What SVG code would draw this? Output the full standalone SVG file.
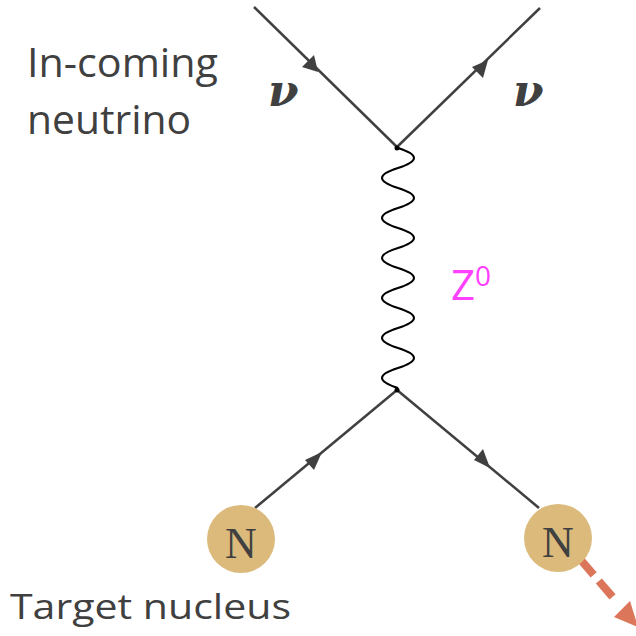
<svg xmlns="http://www.w3.org/2000/svg" width="636" height="636" viewBox="0 0 636 636">
<defs>
<style>
.lbl{font-family:"Open Sans","Liberation Sans",sans-serif;fill:#404040}
.nu{font-family:"DejaVu Serif","Liberation Serif",serif;font-weight:bold;font-style:italic;font-size:44px;fill:#404040}
.fer{stroke:#404040;stroke-width:2.5;fill:none}
.head{fill:#404040}
.nuc{fill:#DBBA7B}
.nl{font-family:"Liberation Serif","DejaVu Serif",serif;font-size:44px;fill:#404040;text-anchor:middle}
.dot{fill:#000}
</style>
</defs>
<rect width="636" height="636" fill="#fff"/>
<g id="labels">
<text class="lbl" x="27" y="77" font-size="40" textLength="191" lengthAdjust="spacingAndGlyphs">In-coming</text>
<text class="lbl" x="27" y="134" font-size="40" textLength="164" lengthAdjust="spacingAndGlyphs">neutrino</text>
<text class="lbl" x="10" y="619" font-size="34" textLength="281" lengthAdjust="spacingAndGlyphs">Target nucleus</text>
<text class="nu" x="268" y="106">ν</text>
<text class="nu" x="513" y="106">ν</text>
<text x="451" y="300" font-family="Open Sans, Liberation Sans, sans-serif" font-size="42" fill="#FF40FF">Z<tspan font-size="28" dy="-14">0</tspan></text>
</g>
<g id="connectors">
<line class="fer" x1="254" y1="7" x2="397" y2="147"/>
<path class="head" d="M318,72 L302,67 L314,55 z"/>
<line class="fer" x1="397" y1="147" x2="540" y2="8"/>
<path class="head" d="M488,60 L472,67 L483,78 z"/>
<path d="M398 148 Q430 158 398 168 T398 188 T398 208 T398 228 T398 248 T398 268 T398 288 T398 308 T398 328 T398 348 T398 368 T398 388" stroke="#000" stroke-width="2" fill="none"/>
<line class="fer" x1="255" y1="508" x2="397" y2="390"/>
<path class="head" d="M322,452 L305,460 L314,470 z"/>
<line class="fer" x1="397" y1="390" x2="539" y2="508"/>
<path class="head" d="M490,468 L474,460 L483,449 z"/>
<circle class="dot" cx="397" cy="148" r="2.5"/>
<circle class="dot" cx="397" cy="390" r="2.5"/>
<line x1="580" y1="559" x2="616" y2="601" stroke="#DB765A" stroke-width="8" stroke-dasharray="21 8"/>
<path d="M638,627 L614,617 L630,601 z" fill="#DB765A"/>
</g>
<g id="nucleus-in">
<circle class="nuc" cx="241" cy="539" r="34"/>
<text class="nl" x="241" y="558">N</text>
</g>
<g id="nucleus-out">
<circle class="nuc" cx="558" cy="538" r="34"/>
<text class="nl" x="558" y="557">N</text>
</g>
</svg>
